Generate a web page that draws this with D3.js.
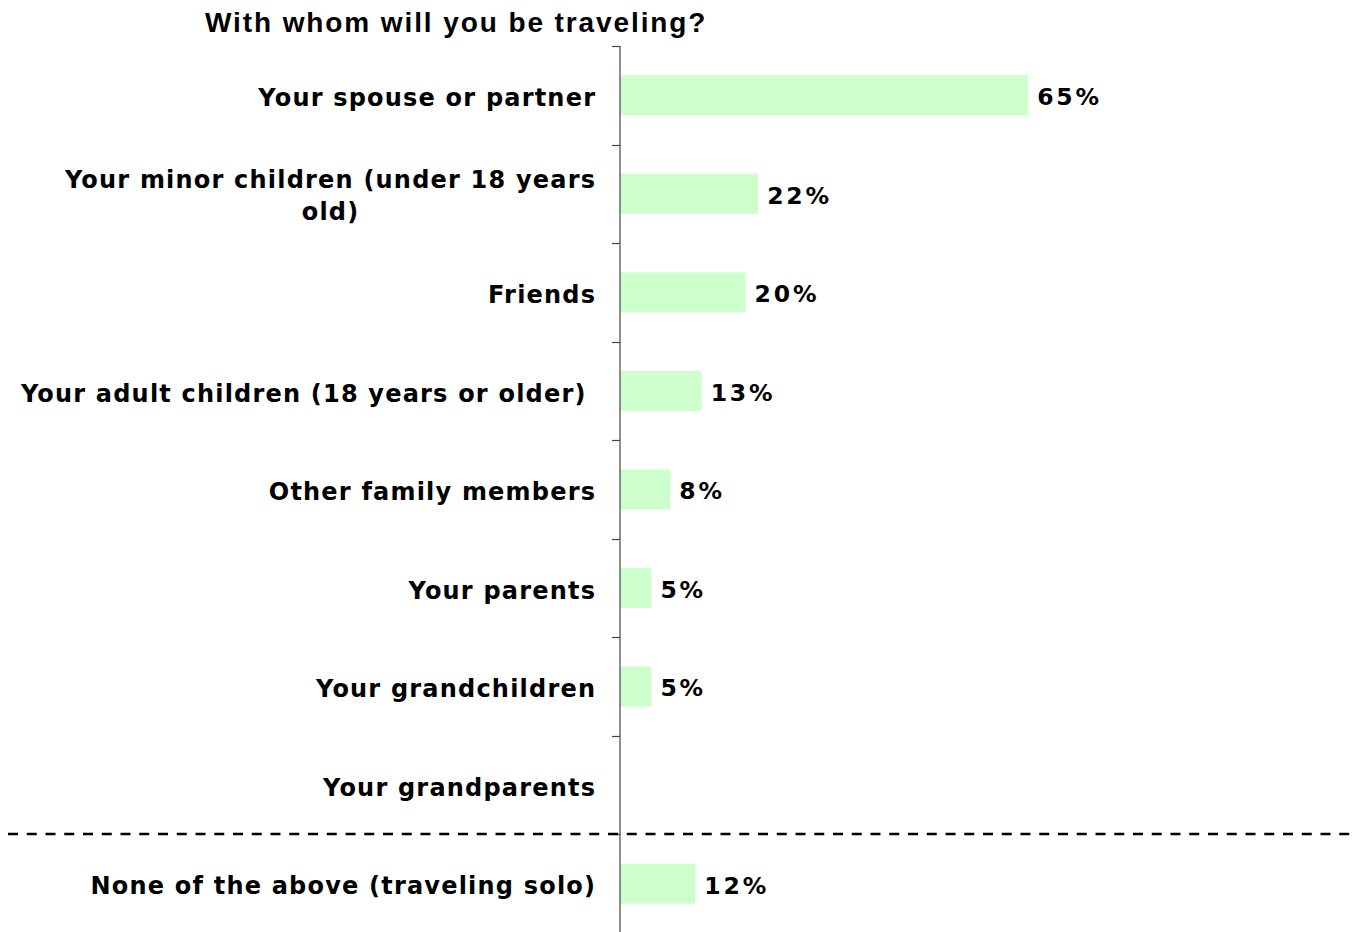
<!DOCTYPE html>
<html>
<head>
<meta charset="utf-8">
<script src="https://cdn.jsdelivr.net/npm/d3@7"></script>
<style>
  html, body { margin: 0; padding: 0; background: #fff; }
  svg { display: block; }
</style>
</head>
<body>
<script>
// Survey responses: who respondents will travel with
const title = "With whom will you be traveling?";
const categories = [
  "Your spouse or partner",
  "Your minor children (under 18 years old)",
  "Friends",
  "Your adult children (18 years or older)\u00a0",
  "Other family members",
  "Your parents",
  "Your grandchildren",
  "Your grandparents",
  "None of the above (traveling solo)"
];
const values = [65, 22, 20, 13, 8, 5, 5, null, 12];
// Category labels split over two lines
const labelLines = {
  "Your minor children (under 18 years old)": ["Your minor children (under 18 years", "old)"]
};

const W = 1352, H = 932;
const axisX = 620;

const svg = d3.select("body").append("svg")
  .attr("width", W).attr("height", H);

const x = d3.scaleLinear().domain([0, 100]).range([axisX, axisX + 628]);
const y = d3.scaleBand().domain(categories).range([46, 933])
  .paddingInner(0.594).paddingOuter(0.297);

const labelFont = "'DejaVu Sans', Verdana, sans-serif";

// Title
svg.append("text")
  .attr("x", 205).attr("y", 32)
  .attr("font-family", "'Liberation Sans', Arial, sans-serif")
  .attr("font-weight", "bold")
  .attr("font-size", 28)
  .attr("letter-spacing", "1.9px")
  .attr("fill", "#000")
  .text(title);

// Bars
const data = categories.map((c, i) => ({ c, v: values[i] }));
svg.append("g").selectAll("rect")
  .data(data.filter(d => d.v != null))
  .join("rect")
  .attr("x", x(0))
  .attr("y", d => y(d.c))
  .attr("width", d => x(d.v) - x(0))
  .attr("height", y.bandwidth())
  .attr("fill", "#ccffcc");

// Value labels
svg.append("g").selectAll("text")
  .data(data.filter(d => d.v != null))
  .join("text")
  .attr("x", d => x(d.v) + 9)
  .attr("y", d => y(d.c) + y.bandwidth() / 2)
  .attr("dy", "0.42em")
  .attr("font-family", labelFont)
  .attr("font-weight", "bold")
  .attr("font-size", 23.5)
  .attr("letter-spacing", "2.8px")
  .attr("fill", "#000")
  .text(d => d.v + "%");

// Category axis with ticks on band boundaries
const step = y.step();
const y0 = y.range()[0];
svg.append("line")
  .attr("x1", axisX).attr("x2", axisX)
  .attr("y1", y0).attr("y2", H + 2)
  .attr("stroke", "#444").attr("stroke-width", 1.2);
svg.append("g").selectAll("line")
  .data(d3.range(categories.length))
  .join("line")
  .attr("x1", axisX - 8).attr("x2", axisX)
  .attr("y1", i => Math.round(y0 + i * step) + 0.5)
  .attr("y2", i => Math.round(y0 + i * step) + 0.5)
  .attr("stroke", "#444").attr("stroke-width", 1.2);

// Category labels
const labelRight = 596.2;
const lab = svg.append("g")
  .attr("font-family", labelFont)
  .attr("font-weight", "bold")
  .attr("font-size", 24)
  .attr("letter-spacing", "1.2px")
  .attr("fill", "#000");
categories.forEach(c => {
  const cy = y(c) + y.bandwidth() / 2;
  const lines = labelLines[c] || [c];
  const lh = 32;
  const top = cy - (lines.length - 1) * lh / 2;
  const first = lab.append("text")
    .attr("x", labelRight).attr("y", top).attr("dy", "0.44em")
    .attr("text-anchor", "end")
    .text(lines[0]);
  if (lines.length > 1) {
    const w = first.node().getComputedTextLength();
    const cx = labelRight - w / 2;
    lines.slice(1).forEach((ln, k) => {
      lab.append("text")
        .attr("x", cx).attr("y", top + (k + 1) * lh).attr("dy", "0.44em")
        .attr("text-anchor", "middle")
        .text(ln);
    });
  }
});

// Separator between listed companions and solo travel
const sepY = Math.round(y0 + 8 * step);
svg.append("line")
  .attr("x1", 8).attr("x2", W + 10)
  .attr("y1", sepY).attr("y2", sepY)
  .attr("stroke", "#000").attr("stroke-width", 2.5)
  .attr("stroke-dasharray", "10,8.75");
</script>
</body>
</html>
